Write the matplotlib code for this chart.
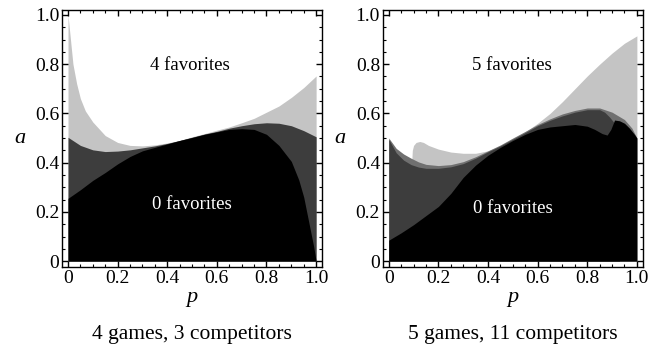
import matplotlib
matplotlib.use("Agg")
import matplotlib.pyplot as plt
from matplotlib.ticker import MultipleLocator

plt.rcParams['font.family'] = ['Liberation Serif', 'DejaVu Serif']

# --- left panel: 4 games, 3 competitors ---
L_black_p = [0, 0.05, 0.1, 0.15, 0.2, 0.25, 0.3, 0.35, 0.4, 0.45, 0.5, 0.55, 0.6, 0.65,
             0.7, 0.75, 0.8, 0.85, 0.9, 0.93, 0.95, 0.97, 0.99, 1.0]
L_black_a = [0.255, 0.29, 0.328, 0.36, 0.395, 0.425, 0.448, 0.462, 0.476, 0.49, 0.502, 0.515,
             0.525, 0.535, 0.538, 0.535, 0.515, 0.47, 0.405, 0.33, 0.26, 0.16, 0.06, 0.0]
L_dark_p = [0, 0.05, 0.1, 0.15, 0.2, 0.25, 0.3, 0.35, 0.4, 0.45, 0.5, 0.55, 0.6, 0.65, 0.7,
            0.75, 0.8, 0.85, 0.9, 0.95, 1.0]
L_dark_a = [0.503, 0.47, 0.452, 0.445, 0.447, 0.452, 0.46, 0.468, 0.478, 0.49, 0.503, 0.516,
            0.527, 0.54, 0.55, 0.558, 0.562, 0.56, 0.55, 0.53, 0.505]
L_light_p = [0, 0.01, 0.02, 0.035, 0.05, 0.07, 0.1, 0.15, 0.2, 0.25, 0.3, 0.35, 0.4, 0.45, 0.5,
             0.55, 0.6, 0.65, 0.7, 0.75, 0.8, 0.85, 0.9, 0.95, 1.0]
L_light_a = [1.0, 0.9, 0.8, 0.72, 0.66, 0.61, 0.565, 0.51, 0.482, 0.47, 0.468, 0.472, 0.48, 0.49,
             0.505, 0.518, 0.532, 0.545, 0.562, 0.58, 0.605, 0.63, 0.665, 0.705, 0.752]

# --- right panel: 5 games, 11 competitors ---
R_black_p = [0, 0.05, 0.1, 0.15, 0.2, 0.25, 0.3, 0.35, 0.4, 0.45, 0.5, 0.55, 0.6, 0.65, 0.7,
             0.75, 0.8, 0.83, 0.86, 0.88, 0.895, 0.91, 0.93, 0.95, 0.97, 0.99, 1.0]
R_black_a = [0.085, 0.115, 0.148, 0.185, 0.222, 0.275, 0.34, 0.39, 0.43, 0.462, 0.49, 0.515,
             0.535, 0.545, 0.55, 0.555, 0.548, 0.535, 0.518, 0.512, 0.535, 0.573, 0.57, 0.56,
             0.54, 0.515, 0.5]
R_dark_p = [0, 0.03, 0.06, 0.09, 0.12, 0.15, 0.2, 0.25, 0.3, 0.35, 0.4, 0.45, 0.5, 0.55, 0.6,
            0.65, 0.7, 0.75, 0.8, 0.85, 0.87, 0.89, 0.91, 0.93]
R_dark_a = [0.495, 0.44, 0.41, 0.392, 0.382, 0.377, 0.377, 0.383, 0.396, 0.418, 0.444, 0.468,
            0.495, 0.522, 0.55, 0.572, 0.59, 0.605, 0.615, 0.615, 0.605, 0.585, 0.56, 0.5]
R_mid_p = [0, 0.03, 0.06, 0.09, 0.12, 0.15, 0.2, 0.25, 0.3, 0.35, 0.4, 0.45, 0.5, 0.55, 0.6,
           0.65, 0.7, 0.75, 0.8, 0.85, 0.9, 0.95, 0.98, 1.0]
R_mid_a = [0.5, 0.458, 0.435, 0.418, 0.403, 0.393, 0.388, 0.392, 0.404, 0.424, 0.448, 0.472,
           0.5, 0.527, 0.555, 0.578, 0.598, 0.612, 0.622, 0.622, 0.605, 0.575, 0.54, 0.5]
R_light_p = [0.093, 0.095, 0.1, 0.11, 0.125, 0.14, 0.16, 0.2, 0.25, 0.3, 0.35, 0.4, 0.45, 0.5,
             0.55, 0.6, 0.65, 0.7, 0.75, 0.8, 0.85, 0.9, 0.95, 1.0]
R_light_a = [0.41, 0.45, 0.47, 0.482, 0.486, 0.482, 0.47, 0.455, 0.443, 0.438, 0.438, 0.448,
             0.468, 0.495, 0.525, 0.56, 0.6, 0.648, 0.7, 0.752, 0.8, 0.845, 0.885, 0.915]

ticks = [0, 0.2, 0.4, 0.6, 0.8, 1.0]
tick_labels = ["0", "0.2", "0.4", "0.6", "0.8", "1.0"]

c_light = '#c4c4c4'
c_mid = '#707070'
c_dark = '#3d3d3d'
c_black = '#000000'

fig = plt.figure(figsize=(6.6, 3.45), dpi=100)
ax1 = fig.add_axes([0.094, 0.226, 0.394, 0.745])
ax2 = fig.add_axes([0.580, 0.226, 0.394, 0.745])


def layer(ax, p, a, color):
    ax.fill_between(p, 0, a, color=color, lw=0)


layer(ax1, L_light_p, L_light_a, c_light)
layer(ax1, L_dark_p, L_dark_a, c_dark)
layer(ax1, L_black_p, L_black_a, c_black)

layer(ax2, R_light_p, R_light_a, c_light)
layer(ax2, R_mid_p, R_mid_a, c_mid)
layer(ax2, R_dark_p, R_dark_a, c_dark)
layer(ax2, R_black_p, R_black_a, c_black)

ax1.text(0.49, 0.795, "4 favorites", ha='center', va='center', fontsize=13.5)
ax1.text(0.5, 0.232, "0 favorites", ha='center', va='center', fontsize=13.5, color='white')
ax2.text(0.495, 0.795, "5 favorites", ha='center', va='center', fontsize=13.5)
ax2.text(0.5, 0.214, "0 favorites", ha='center', va='center', fontsize=13.5, color='white')

titles = ["4 games, 3 competitors", "5 games, 11 competitors"]
for ax, t in zip([ax1, ax2], titles):
    ax.set_xlim(-0.024, 1.024)
    ax.set_ylim(-0.024, 1.02)
    ax.set_xticks(ticks)
    ax.set_yticks(ticks)
    ax.set_xticklabels(tick_labels, fontsize=14)
    ax.set_yticklabels(tick_labels, fontsize=14)
    ax.xaxis.set_minor_locator(MultipleLocator(0.05))
    ax.yaxis.set_minor_locator(MultipleLocator(0.05))
    ax.tick_params(which='both', direction='in', top=True, right=True)
    ax.tick_params(which='major', length=4.5, width=1.0, pad=2)
    ax.tick_params(which='minor', length=2.2, width=0.8)
    for s in ax.spines.values():
        s.set_linewidth(1.0)
    ax.set_xlabel("p", fontsize=16, style='italic', labelpad=1)
    ax.set_ylabel("a", fontsize=16, style='italic', rotation=0, labelpad=11, va='center')
    ax.text(0.5, -0.262, t, transform=ax.transAxes, ha='center', va='center', fontsize=15.5)

fig.savefig("out.png", dpi=100)
